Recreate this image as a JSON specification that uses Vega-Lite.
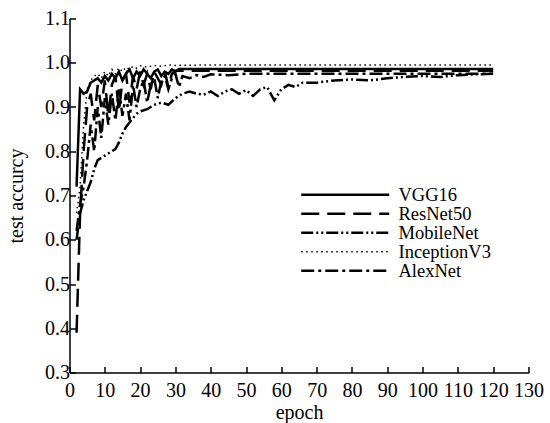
{
  "$schema": "https://vega.github.io/schema/vega-lite/v6.json",
  "width": 459,
  "height": 354,
  "autosize": {"type": "none"},
  "padding": {"left": 69.5, "top": 18.5, "right": 21.5, "bottom": 50.5},
  "config": {
    "view": {"stroke": null},
    "font": "Liberation Serif",
    "axis": {
      "domainColor": "black",
      "domainWidth": 1.5,
      "tickColor": "black",
      "tickWidth": 1.5,
      "tickSize": -6,
      "labelFont": "Liberation Serif",
      "labelFontSize": 20,
      "labelColor": "black",
      "labelOverlap": false,
      "labelFlush": false,
      "titleFont": "Liberation Serif",
      "titleFontSize": 20,
      "titleFontWeight": "normal",
      "titleColor": "black",
      "grid": false
    }
  },
  "data": {
    "values": [
      {"m": "VGG16", "e": 2, "a": 0.72}, {"m": "VGG16", "e": 3, "a": 0.94}, {"m": "VGG16", "e": 4, "a": 0.93}, {"m": "VGG16", "e": 5, "a": 0.935}, {"m": "VGG16", "e": 6, "a": 0.955}, {"m": "VGG16", "e": 7, "a": 0.96}, {"m": "VGG16", "e": 8, "a": 0.965}, {"m": "VGG16", "e": 9, "a": 0.955}, {"m": "VGG16", "e": 10, "a": 0.97}, {"m": "VGG16", "e": 11, "a": 0.96}, {"m": "VGG16", "e": 12, "a": 0.975}, {"m": "VGG16", "e": 13, "a": 0.965}, {"m": "VGG16", "e": 14, "a": 0.98}, {"m": "VGG16", "e": 15, "a": 0.96}, {"m": "VGG16", "e": 16, "a": 0.975}, {"m": "VGG16", "e": 17, "a": 0.985}, {"m": "VGG16", "e": 18, "a": 0.965}, {"m": "VGG16", "e": 19, "a": 0.98}, {"m": "VGG16", "e": 20, "a": 0.97}, {"m": "VGG16", "e": 21, "a": 0.985}, {"m": "VGG16", "e": 22, "a": 0.975}, {"m": "VGG16", "e": 23, "a": 0.965}, {"m": "VGG16", "e": 24, "a": 0.98}, {"m": "VGG16", "e": 25, "a": 0.985}, {"m": "VGG16", "e": 26, "a": 0.97}, {"m": "VGG16", "e": 27, "a": 0.98}, {"m": "VGG16", "e": 28, "a": 0.975}, {"m": "VGG16", "e": 29, "a": 0.985}, {"m": "VGG16", "e": 30, "a": 0.98}, {"m": "VGG16", "e": 31, "a": 0.986}, {"m": "VGG16", "e": 40, "a": 0.986}, {"m": "VGG16", "e": 50, "a": 0.986}, {"m": "VGG16", "e": 60, "a": 0.986}, {"m": "VGG16", "e": 70, "a": 0.986}, {"m": "VGG16", "e": 80, "a": 0.986}, {"m": "VGG16", "e": 90, "a": 0.986}, {"m": "VGG16", "e": 100, "a": 0.986}, {"m": "VGG16", "e": 110, "a": 0.986}, {"m": "VGG16", "e": 120, "a": 0.986},

      {"m": "ResNet50", "e": 2, "a": 0.39}, {"m": "ResNet50", "e": 3, "a": 0.66}, {"m": "ResNet50", "e": 4, "a": 0.8}, {"m": "ResNet50", "e": 5, "a": 0.9}, {"m": "ResNet50", "e": 6, "a": 0.93}, {"m": "ResNet50", "e": 7, "a": 0.87}, {"m": "ResNet50", "e": 8, "a": 0.95}, {"m": "ResNet50", "e": 9, "a": 0.9}, {"m": "ResNet50", "e": 10, "a": 0.96}, {"m": "ResNet50", "e": 11, "a": 0.88}, {"m": "ResNet50", "e": 12, "a": 0.95}, {"m": "ResNet50", "e": 13, "a": 0.97}, {"m": "ResNet50", "e": 14, "a": 0.89}, {"m": "ResNet50", "e": 15, "a": 0.96}, {"m": "ResNet50", "e": 16, "a": 0.975}, {"m": "ResNet50", "e": 17, "a": 0.91}, {"m": "ResNet50", "e": 18, "a": 0.97}, {"m": "ResNet50", "e": 19, "a": 0.94}, {"m": "ResNet50", "e": 20, "a": 0.98}, {"m": "ResNet50", "e": 21, "a": 0.95}, {"m": "ResNet50", "e": 22, "a": 0.975}, {"m": "ResNet50", "e": 23, "a": 0.94}, {"m": "ResNet50", "e": 24, "a": 0.98}, {"m": "ResNet50", "e": 25, "a": 0.965}, {"m": "ResNet50", "e": 26, "a": 0.95}, {"m": "ResNet50", "e": 27, "a": 0.98}, {"m": "ResNet50", "e": 28, "a": 0.945}, {"m": "ResNet50", "e": 29, "a": 0.975}, {"m": "ResNet50", "e": 30, "a": 0.982}, {"m": "ResNet50", "e": 40, "a": 0.982}, {"m": "ResNet50", "e": 50, "a": 0.982}, {"m": "ResNet50", "e": 60, "a": 0.982}, {"m": "ResNet50", "e": 70, "a": 0.982}, {"m": "ResNet50", "e": 80, "a": 0.982}, {"m": "ResNet50", "e": 90, "a": 0.982}, {"m": "ResNet50", "e": 100, "a": 0.982}, {"m": "ResNet50", "e": 110, "a": 0.982}, {"m": "ResNet50", "e": 120, "a": 0.982},

      {"m": "MobileNet", "e": 2, "a": 0.6}, {"m": "MobileNet", "e": 3, "a": 0.66}, {"m": "MobileNet", "e": 4, "a": 0.69}, {"m": "MobileNet", "e": 5, "a": 0.71}, {"m": "MobileNet", "e": 6, "a": 0.73}, {"m": "MobileNet", "e": 7, "a": 0.76}, {"m": "MobileNet", "e": 8, "a": 0.78}, {"m": "MobileNet", "e": 9, "a": 0.785}, {"m": "MobileNet", "e": 10, "a": 0.79}, {"m": "MobileNet", "e": 11, "a": 0.795}, {"m": "MobileNet", "e": 12, "a": 0.8}, {"m": "MobileNet", "e": 13, "a": 0.805}, {"m": "MobileNet", "e": 14, "a": 0.82}, {"m": "MobileNet", "e": 15, "a": 0.84}, {"m": "MobileNet", "e": 16, "a": 0.855}, {"m": "MobileNet", "e": 17, "a": 0.865}, {"m": "MobileNet", "e": 18, "a": 0.875}, {"m": "MobileNet", "e": 19, "a": 0.885}, {"m": "MobileNet", "e": 20, "a": 0.89}, {"m": "MobileNet", "e": 22, "a": 0.895}, {"m": "MobileNet", "e": 24, "a": 0.905}, {"m": "MobileNet", "e": 26, "a": 0.91}, {"m": "MobileNet", "e": 28, "a": 0.905}, {"m": "MobileNet", "e": 30, "a": 0.92}, {"m": "MobileNet", "e": 32, "a": 0.93}, {"m": "MobileNet", "e": 34, "a": 0.935}, {"m": "MobileNet", "e": 36, "a": 0.93}, {"m": "MobileNet", "e": 38, "a": 0.928}, {"m": "MobileNet", "e": 40, "a": 0.935}, {"m": "MobileNet", "e": 42, "a": 0.925}, {"m": "MobileNet", "e": 44, "a": 0.935}, {"m": "MobileNet", "e": 46, "a": 0.94}, {"m": "MobileNet", "e": 48, "a": 0.93}, {"m": "MobileNet", "e": 50, "a": 0.938}, {"m": "MobileNet", "e": 52, "a": 0.925}, {"m": "MobileNet", "e": 54, "a": 0.94}, {"m": "MobileNet", "e": 56, "a": 0.945}, {"m": "MobileNet", "e": 58, "a": 0.915}, {"m": "MobileNet", "e": 60, "a": 0.94}, {"m": "MobileNet", "e": 62, "a": 0.95}, {"m": "MobileNet", "e": 64, "a": 0.945}, {"m": "MobileNet", "e": 66, "a": 0.955}, {"m": "MobileNet", "e": 70, "a": 0.955}, {"m": "MobileNet", "e": 75, "a": 0.96}, {"m": "MobileNet", "e": 80, "a": 0.962}, {"m": "MobileNet", "e": 85, "a": 0.96}, {"m": "MobileNet", "e": 90, "a": 0.965}, {"m": "MobileNet", "e": 95, "a": 0.968}, {"m": "MobileNet", "e": 100, "a": 0.97}, {"m": "MobileNet", "e": 105, "a": 0.968}, {"m": "MobileNet", "e": 110, "a": 0.972}, {"m": "MobileNet", "e": 115, "a": 0.974}, {"m": "MobileNet", "e": 120, "a": 0.975},

      {"m": "InceptionV3", "e": 2, "a": 0.66}, {"m": "InceptionV3", "e": 3, "a": 0.72}, {"m": "InceptionV3", "e": 4, "a": 0.86}, {"m": "InceptionV3", "e": 5, "a": 0.94}, {"m": "InceptionV3", "e": 6, "a": 0.96}, {"m": "InceptionV3", "e": 7, "a": 0.97}, {"m": "InceptionV3", "e": 8, "a": 0.975}, {"m": "InceptionV3", "e": 9, "a": 0.965}, {"m": "InceptionV3", "e": 10, "a": 0.98}, {"m": "InceptionV3", "e": 11, "a": 0.97}, {"m": "InceptionV3", "e": 12, "a": 0.985}, {"m": "InceptionV3", "e": 13, "a": 0.975}, {"m": "InceptionV3", "e": 14, "a": 0.988}, {"m": "InceptionV3", "e": 15, "a": 0.98}, {"m": "InceptionV3", "e": 16, "a": 0.99}, {"m": "InceptionV3", "e": 17, "a": 0.985}, {"m": "InceptionV3", "e": 18, "a": 0.992}, {"m": "InceptionV3", "e": 19, "a": 0.988}, {"m": "InceptionV3", "e": 20, "a": 0.993}, {"m": "InceptionV3", "e": 22, "a": 0.99}, {"m": "InceptionV3", "e": 24, "a": 0.994}, {"m": "InceptionV3", "e": 26, "a": 0.992}, {"m": "InceptionV3", "e": 28, "a": 0.995}, {"m": "InceptionV3", "e": 30, "a": 0.994}, {"m": "InceptionV3", "e": 40, "a": 0.995}, {"m": "InceptionV3", "e": 50, "a": 0.995}, {"m": "InceptionV3", "e": 60, "a": 0.995}, {"m": "InceptionV3", "e": 70, "a": 0.995}, {"m": "InceptionV3", "e": 80, "a": 0.995}, {"m": "InceptionV3", "e": 90, "a": 0.995}, {"m": "InceptionV3", "e": 100, "a": 0.995}, {"m": "InceptionV3", "e": 110, "a": 0.995}, {"m": "InceptionV3", "e": 120, "a": 0.995},

      {"m": "AlexNet", "e": 2, "a": 0.62}, {"m": "AlexNet", "e": 3, "a": 0.68}, {"m": "AlexNet", "e": 4, "a": 0.72}, {"m": "AlexNet", "e": 5, "a": 0.78}, {"m": "AlexNet", "e": 6, "a": 0.86}, {"m": "AlexNet", "e": 7, "a": 0.8}, {"m": "AlexNet", "e": 8, "a": 0.9}, {"m": "AlexNet", "e": 9, "a": 0.83}, {"m": "AlexNet", "e": 10, "a": 0.92}, {"m": "AlexNet", "e": 11, "a": 0.86}, {"m": "AlexNet", "e": 12, "a": 0.93}, {"m": "AlexNet", "e": 13, "a": 0.87}, {"m": "AlexNet", "e": 14, "a": 0.94}, {"m": "AlexNet", "e": 15, "a": 0.88}, {"m": "AlexNet", "e": 16, "a": 0.93}, {"m": "AlexNet", "e": 17, "a": 0.87}, {"m": "AlexNet", "e": 18, "a": 0.95}, {"m": "AlexNet", "e": 19, "a": 0.9}, {"m": "AlexNet", "e": 20, "a": 0.94}, {"m": "AlexNet", "e": 21, "a": 0.96}, {"m": "AlexNet", "e": 22, "a": 0.91}, {"m": "AlexNet", "e": 23, "a": 0.95}, {"m": "AlexNet", "e": 24, "a": 0.965}, {"m": "AlexNet", "e": 25, "a": 0.92}, {"m": "AlexNet", "e": 26, "a": 0.96}, {"m": "AlexNet", "e": 27, "a": 0.97}, {"m": "AlexNet", "e": 28, "a": 0.94}, {"m": "AlexNet", "e": 29, "a": 0.965}, {"m": "AlexNet", "e": 30, "a": 0.975}, {"m": "AlexNet", "e": 31, "a": 0.945}, {"m": "AlexNet", "e": 32, "a": 0.97}, {"m": "AlexNet", "e": 34, "a": 0.965}, {"m": "AlexNet", "e": 36, "a": 0.972}, {"m": "AlexNet", "e": 38, "a": 0.968}, {"m": "AlexNet", "e": 40, "a": 0.974}, {"m": "AlexNet", "e": 45, "a": 0.972}, {"m": "AlexNet", "e": 50, "a": 0.975}, {"m": "AlexNet", "e": 60, "a": 0.975}, {"m": "AlexNet", "e": 70, "a": 0.975}, {"m": "AlexNet", "e": 80, "a": 0.975}, {"m": "AlexNet", "e": 90, "a": 0.975}, {"m": "AlexNet", "e": 100, "a": 0.975}, {"m": "AlexNet", "e": 110, "a": 0.975}, {"m": "AlexNet", "e": 120, "a": 0.975}
    ]
  },
  "mark": {"type": "line", "color": "black", "strokeCap": "butt", "strokeJoin": "miter"},
  "encoding": {
    "x": {
      "field": "e",
      "type": "quantitative",
      "scale": {"domain": [0, 130], "nice": false},
      "axis": {"title": "epoch", "values": [0, 10, 20, 30, 40, 50, 60, 70, 80, 90, 100, 110, 120, 130], "labelPadding": 14, "titlePadding": 2}
    },
    "y": {
      "field": "a",
      "type": "quantitative",
      "scale": {"domain": [0.3, 1.1], "nice": false, "zero": false},
      "axis": {"title": "test accurcy", "values": [0.3, 0.4, 0.5, 0.6, 0.7, 0.8, 0.9, 1.0, 1.1], "format": ".1f", "labelPadding": 6, "titlePadding": 18}
    },
    "strokeDash": {
      "field": "m",
      "type": "nominal",
      "scale": {
        "domain": ["VGG16", "ResNet50", "MobileNet", "InceptionV3", "AlexNet"],
        "range": [[1, 0], [18, 8], [12, 3, 2, 3, 2, 3], [1.5, 3.5], [13, 4, 3, 4]]
      },
      "legend": {
        "orient": "none",
        "legendX": 266.5,
        "legendY": 167,
        "title": null,
        "symbolType": "M-44,0H44",
        "symbolSize": 4,
        "symbolStrokeColor": "black",
        "symbolStrokeWidth": 2.5,
        "labelOffset": 44,
        "labelFont": "Liberation Serif",
        "labelFontSize": 18.5,
        "labelColor": "black",
        "rowPadding": 0,
        "encode": {
          "symbols": {"update": {"strokeWidth": {"signal": "datum.value === 'InceptionV3' ? 1.5 : 2.5"}}}
        }
      }
    },
    "strokeWidth": {
      "condition": {"test": "datum.m === 'InceptionV3'", "value": 1.5},
      "value": 2.5
    }
  }
}
